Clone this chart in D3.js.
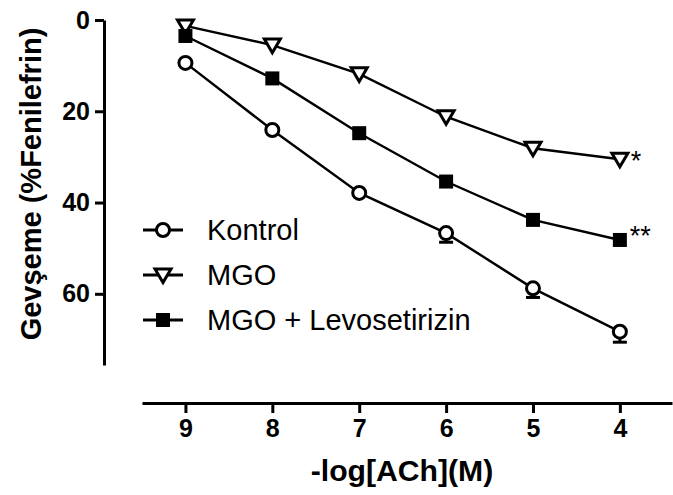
<!DOCTYPE html>
<html>
<head>
<meta charset="utf-8">
<script src="https://cdn.jsdelivr.net/npm/d3@7"></script>
<style>
  html, body { margin: 0; padding: 0; background: #fff; }
  svg { display: block; font-family: "Liberation Sans", Arial, sans-serif; }
</style>
</head>
<body>
<div id="chart"></div>
<script>
// Concentration-response curves.
const doses = [9, 8, 7, 6, 5, 4];
const kontrol = [9.4, 24.1, 37.9, 46.7, 58.8, 68.3];
const kontrolErr = [0, 0, 0, 2.0, 2.0, 2.3];
const mgo = [1.3, 5.5, 11.8, 21.2, 28.1, 30.5];
const mgoLevo = [3.5, 12.8, 24.8, 35.4, 43.8, 48.2];
const yTicks = [0, 20, 40, 60];
const seriesNames = ["Kontrol", "MGO", "MGO + Levosetirizin"];
const seriesMarks = ["*", "**"]; // significance marks at the last dose (MGO, MGO+L)

const W = 673, H = 495;
const yAxisX = 104, xAxisY = 403;

const x = d3.scaleLinear().domain([9.5, 3.4]).range([142, 672]);
const y = d3.scaleLinear().domain([0, 75.6]).range([20, 365]);

const svg = d3.select("#chart").append("svg")
  .attr("width", W).attr("height", H).attr("viewBox", `0 0 ${W} ${H}`);

// stretch text a bit wider, like the exported figure
const wide = (sel, sx) => sel.attr("textLength", null).style("transform-box", "fill-box")
  .style("transform-origin", "center").style("transform", `scaleX(${sx})`);

// y axis
const yAxis = svg.append("g").attr("transform", `translate(${yAxisX},0)`)
  .call(d3.axisLeft(y).tickValues(yTicks).tickSize(9).tickPadding(5).tickSizeOuter(0));
yAxis.select(".domain").attr("stroke", "#000").attr("stroke-width", 3);
yAxis.selectAll(".tick line").attr("stroke", "#000").attr("stroke-width", 3);
yAxis.selectAll(".tick text").attr("fill", "#000").attr("font-size", 25)
  .attr("font-weight", "bold").attr("font-family", "Liberation Sans, Arial, sans-serif");

// x axis
const xAxis = svg.append("g").attr("transform", `translate(0,${xAxisY})`)
  .call(d3.axisBottom(x).tickValues(doses).tickFormat(d3.format("d"))
    .tickSize(10).tickPadding(6).tickSizeOuter(0));
xAxis.select(".domain").attr("stroke", "#000").attr("stroke-width", 3);
xAxis.selectAll(".tick line").attr("stroke", "#000").attr("stroke-width", 3);
xAxis.selectAll(".tick text").attr("fill", "#000").attr("font-size", 25)
  .attr("font-weight", "bold").attr("font-family", "Liberation Sans, Arial, sans-serif");

// axis titles
svg.append("text")
  .attr("transform", `translate(41,184) rotate(-90)`)
  .attr("text-anchor", "middle")
  .attr("font-size", 29).attr("font-weight", "bold")
  .text("Gevşeme (%Fenilefrin)");

svg.append("text")
  .attr("x", 402).attr("y", 481)
  .attr("text-anchor", "middle")
  .attr("font-size", 29).attr("font-weight", "bold")
  .call(wide, 1.04)
  .text("-log[ACh](M)");

const line = d3.line().x((d) => x(d.dose)).y((d) => y(d.value));
const rows = (vals) => doses.map((dose, i) => ({ dose, value: vals[i] }));

const series = [
  { name: seriesNames[0], data: rows(kontrol), mark: "circle" },
  { name: seriesNames[1], data: rows(mgo), mark: "triangle" },
  { name: seriesNames[2], data: rows(mgoLevo), mark: "square" },
];

function drawMarker(g, kind, cx, cy) {
  if (kind === "circle") {
    g.append("circle").attr("cx", cx).attr("cy", cy).attr("r", 6.5)
      .attr("fill", "#fff").attr("stroke", "#000").attr("stroke-width", 3);
  } else if (kind === "triangle") {
    const s = 8;
    g.append("path")
      .attr("d", `M ${cx - s} ${cy - s * 0.75} L ${cx + s} ${cy - s * 0.75} L ${cx} ${cy + s * 0.95} Z`)
      .attr("fill", "#fff").attr("stroke", "#000").attr("stroke-width", 3)
      .attr("stroke-linejoin", "miter");
  } else {
    g.append("rect").attr("x", cx - 7).attr("y", cy - 7).attr("width", 14).attr("height", 14)
      .attr("fill", "#000");
  }
}

// error bars (below only) for Kontrol
const eb = svg.append("g").attr("stroke", "#000").attr("stroke-width", 3);
doses.forEach((dose, i) => {
  if (!kontrolErr[i]) return;
  const cx = x(dose), y0 = y(kontrol[i]), y1 = y(kontrol[i] + kontrolErr[i]);
  eb.append("line").attr("x1", cx).attr("x2", cx).attr("y1", y0).attr("y2", y1);
  eb.append("line").attr("x1", cx - 7).attr("x2", cx + 7).attr("y1", y1).attr("y2", y1);
});

series.forEach((s) => {
  svg.append("path").datum(s.data).attr("d", line)
    .attr("fill", "none").attr("stroke", "#000").attr("stroke-width", 2.4);
});
series.forEach((s) => {
  const g = svg.append("g");
  s.data.forEach((d) => drawMarker(g, s.mark, x(d.dose), y(d.value)));
});

// significance marks
svg.append("text").attr("x", x(4) + 11).attr("y", y(mgo[5]) + 11)
  .attr("font-size", 27).text(seriesMarks[0]);
svg.append("text").attr("x", x(4) + 10).attr("y", y(mgoLevo[5]) + 5)
  .attr("font-size", 27).text(seriesMarks[1]);

// legend
const legend = svg.append("g");
const legendY = [230, 275, 320];
series.forEach((s, i) => {
  const ly = legendY[i];
  legend.append("line").attr("x1", 143).attr("x2", 183).attr("y1", ly).attr("y2", ly)
    .attr("stroke", "#000").attr("stroke-width", 3);
  drawMarker(legend, s.mark, 163, ly);
  legend.append("text").attr("x", 207).attr("y", ly).attr("dy", "0.35em")
    .attr("font-size", 29).text(s.name);
});
</script>
</body>
</html>
